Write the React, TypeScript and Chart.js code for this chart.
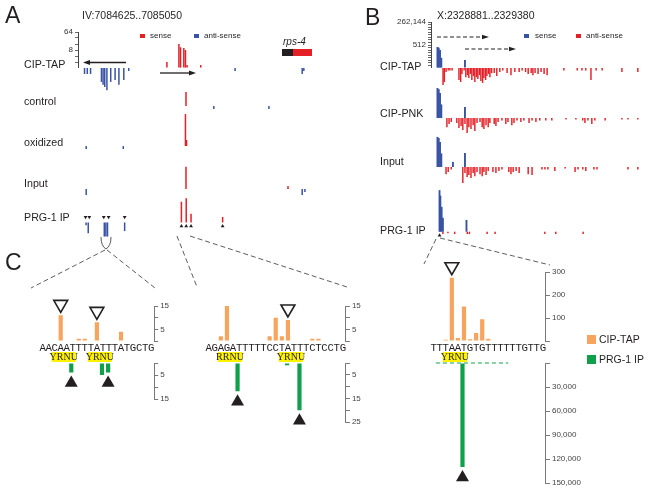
import React, { useEffect, useRef } from 'react';
import { Chart, registerables } from 'chart.js';

Chart.register(...registerables);

const RED = '#e41f26';
const BLUE = '#3953a4';
const ORANGE = '#f7a55e';
const GREEN = '#10a04b';
const YELLOW = '#fff200';
const INK = '#231f20';
const AXIS = '#555555';
const SANS = '"Liberation Sans", Arial, Helvetica, sans-serif';
const MONO = '"Liberation Mono", "Courier New", monospace';
const SERIF = '"Liberation Serif", "Times New Roman", serif';
Chart.defaults.font.family = SANS;

// ================= Panel A : IV:7084625..7085050 =================
// positions = bp offset from 7084625, values = reads (log2 scale)
const aRegion = 'IV:7084625..7085050';
const aTrackNames = ['CIP-TAP', 'control', 'oxidized', 'Input', 'PRG-1 IP'];
const aAxisTickReads = [1, 2, 4, 8, 16, 32, 64];
const aAxisLabelReads = [8, 64];

const aCipTapSensePos = [156, 178, 181, 187, 190, 193, 218];
const aCipTapSenseReads = [2, 16, 11, 10, 8, 1, 1];
const aCipTapAntiPos = [5, 10, 16, 36, 39, 42, 46, 53, 61, 68, 77, 86, 281, 404, 407];
const aCipTapAntiReads = [2, 2, 2, 5, 7, 9, 13, 5, 4, 7, 4, 1, 1, 2, 1];
const aControlSensePos = [191];
const aControlSenseReads = [5];
const aControlAntiPos = [242, 343];
const aControlAntiReads = [1, 1];
const aOxidizedSensePos = [190, 192];
const aOxidizedSenseReads = [40, 2];
const aOxidizedAntiPos = [8, 76];
const aOxidizedAntiReads = [1, 1];
const aInputSensePos = [191, 378];
const aInputSenseReads = [13, 1];
const aInputAntiPos = [8, 404, 409];
const aInputAntiReads = [2, 2, 1];
const aPrgSensePos = [182, 191, 200, 259];
const aPrgSenseReads = [14, 22, 3, 2];
const aPrgAntiPos = [4, 8, 38, 41, 44, 76];
const aPrgAntiReads = [1, 4, 6, 6, 6, 3];
const aPrgSenseMarks = [182, 191, 200, 259];
const aPrgAntiMarks = [3, 10, 37, 46, 76];

// ================= Panel B : X:2328881..2329380 =================
const bRegion = 'X:2328881..2329380';
const bTrackNames = ['CIP-TAP', 'CIP-PNK', 'Input', 'PRG-1 IP'];
const bAxisTickReads = Array.from({ length: 19 }, (_, i) => 2 ** i);
const bAxisLabelReads = [512, 262144];

const bCipTapSensePos = [15, 18, 21, 24, 79];
const bCipTapSenseReads = [300, 250, 130, 16, 9];
const bCipTapAntiPos = [28, 31, 35, 40, 44, 49, 65, 69, 72, 77, 81, 85, 88, 92, 95, 99, 102, 106, 109, 113, 116, 120, 123, 127, 130, 134, 137, 141, 147, 153, 160, 167, 177, 186, 195, 205, 212, 220, 226, 233, 237, 242, 249, 256, 263, 270, 309, 340, 351, 360, 372, 384, 398, 444, 481];
const bCipTapAntiReads = [100, 45, 3, 2, 2, 2, 26, 45, 5, 2, 12, 7, 15, 5, 26, 9, 45, 12, 20, 7, 34, 58, 15, 26, 9, 5, 12, 4, 4, 9, 3, 2, 4, 7, 3, 3, 2, 3, 5, 4, 7, 4, 5, 3, 5, 7, 2, 2, 2, 2, 26, 2, 2, 3, 3];
const bCipPnkSensePos = [15, 18, 21, 24, 79];
const bCipPnkSenseReads = [3400, 2500, 900, 40, 20];
const bCipPnkAntiPos = [37, 42, 47, 60, 65, 70, 74, 79, 84, 88, 93, 98, 102, 107, 114, 119, 123, 128, 133, 137, 147, 151, 156, 165, 174, 179, 188, 193, 200, 209, 216, 228, 235, 244, 253, 267, 281, 314, 337, 353, 358, 365, 374, 381, 405, 444, 458, 481];
const bCipPnkAntiReads = [12, 5, 3, 4, 15, 9, 26, 5, 58, 12, 20, 7, 34, 4, 3, 12, 20, 7, 12, 4, 5, 9, 3, 2, 5, 3, 7, 4, 2, 3, 2, 4, 2, 3, 2, 2, 2, 1, 1, 2, 4, 2, 5, 2, 2, 1, 1, 1];
const bInputSensePos = [15, 18, 21, 24, 51, 79];
const bInputSenseReads = [3500, 2600, 900, 40, 4, 45];
const bInputAntiPos = [35, 40, 47, 74, 79, 84, 88, 93, 98, 102, 107, 114, 119, 123, 128, 133, 144, 151, 158, 165, 181, 186, 191, 198, 205, 226, 235, 258, 265, 272, 288, 312, 335, 342, 353, 360, 379, 386, 458, 481];
const bInputAntiReads = [7, 4, 2, 77, 5, 15, 9, 20, 5, 12, 4, 7, 12, 4, 9, 3, 4, 5, 3, 2, 4, 7, 4, 3, 5, 7, 9, 2, 2, 2, 3, 1, 4, 2, 2, 3, 2, 2, 2, 2];
const bPrgSensePos = [15, 17, 20, 23, 79];
const bPrgSenseReads = [200000, 40000, 1500, 60, 32];
const bPrgAntiPos = [23, 35, 51, 81, 86, 128, 147, 265, 291, 356];
const bPrgAntiReads = [2, 1, 2, 2, 2, 2, 2, 2, 2, 2];
const bPrgSenseMarks = [15];

// ================= Panel C : nucleotide-resolution views =================
const cLeftSeq = 'AACAATTTTATTTATGCTG';
const cLeftCipTapIdx = [3, 6, 7, 9, 13];
const cLeftCipTapVal = [11, 1, 1, 8, 4];
const cLeftPrgIdx = [5, 10, 11];
const cLeftPrgVal = [4, 5, 4];
const cLeftOpenMarks = [3, 9];
const cLeftFilledMarks = [5, 11];
const cLeftMotifStart = [2, 8];
const cLeftMotifText = ['YRNU', 'YRNU'];
const cLeftTopTicks = [0, 5, 10, 15];
const cLeftTopLabels = [5, 15];
const cLeftBottomTicks = [0, 5, 10, 15];
const cLeftBottomLabels = [5, 15];

const cMidSeq = 'AGAGATTTTTCCTATTTCTCCTG';
const cMidCipTapIdx = [2, 3, 10, 11, 12, 13, 17, 18];
const cMidCipTapVal = [2, 15, 2, 10, 2, 9, 1, 1];
const cMidPrgIdx = [5, 13, 15];
const cMidPrgVal = [12, 1, 20];
const cMidOpenMarks = [3, 13];
const cMidFilledMarks = [5, 15];
const cMidMotifStart = [2, 12];
const cMidMotifText = ['RRNU', 'YRNU'];
const cMidTopTicks = [0, 5, 10, 15];
const cMidTopLabels = [5, 15];
const cMidBottomTicks = [0, 5, 10, 15, 20, 25];
const cMidBottomLabels = [5, 15, 25];

const cRightSeq = 'TTTAATGTGTTTTTTGTTG';
const cRightCipTapIdx = [2, 3, 4, 5, 6, 7, 8, 9];
const cRightCipTapVal = [5, 275, 13, 150, 8, 35, 95, 10];
const cRightPrgIdx = [5];
const cRightPrgVal = [130000];
const cRightOpenMarks = [3];
const cRightFilledMarks = [5];
const cRightMotifStart = [2];
const cRightMotifText = ['YRNU'];
const cRightPrgGuide = [0.7, 12.4];
const cRightTopTicks = [0, 100, 200, 300];
const cRightTopLabels = [100, 200, 300];
const cRightBottomTicks = [0, 30000, 60000, 90000, 120000, 150000];
const cRightBottomLabels = [30000, 60000, 90000, 120000, 150000];
const cLegend = ['CIP-TAP', 'PRG-1 IP'];

// ================= helpers =================
type Area = { L: number; T: number; R: number; B: number };
type Pad = { l: number; t: number; r: number; b: number };
type Spec = { left: number; top: number; width: number; height: number; make: () => any };

function frame(area: Area, pad: Pad, ax: { left?: number; right?: number; bottom?: number } = {}) {
  const left = Math.floor(area.L - pad.l);
  const top = Math.floor(area.T - pad.t);
  const right = Math.ceil(area.R + pad.r);
  const bottom = Math.ceil(area.B + pad.b);
  return {
    left,
    top,
    width: right - left,
    height: bottom - top,
    padding: {
      left: area.L - left - (ax.left || 0),
      top: area.T - top,
      right: right - area.R - (ax.right || 0),
      bottom: bottom - area.B - (ax.bottom || 0),
    },
  };
}

const fix = (w?: number, h?: number) => (s: any) => {
  if (w !== undefined) s.width = w;
  if (h !== undefined) s.height = h;
  s.paddingLeft = 0;
  s.paddingRight = 0;
  s.paddingTop = 0;
  s.paddingBottom = 0;
};

function baseOptions(padding: any) {
  return {
    responsive: false,
    maintainAspectRatio: false,
    animation: false,
    events: [],
    layout: { padding },
    plugins: { legend: { display: false }, tooltip: { enabled: false }, title: { display: false } },
  };
}

function markDs(data: any[], rotation: number, r: number, fill: string, stroke: string, bw = 0) {
  return {
    type: 'scatter',
    data,
    showLine: false,
    clip: false,
    pointStyle: 'triangle',
    pointRotation: rotation,
    rotation,
    pointRadius: r,
    radius: r,
    pointHoverRadius: r,
    pointBackgroundColor: fill,
    backgroundColor: fill,
    pointBorderColor: stroke,
    borderColor: stroke,
    pointBorderWidth: bw,
    borderWidth: bw,
  };
}

interface Series { pos: number[]; reads: number[]; color: string; w: number }
interface TrackDef {
  area: Area;
  x: [number, number];
  y: [number, number];
  up?: Series;
  down?: Series;
  minH: number;
  upMarks?: number[];
  downMarks?: number[];
  axis?: { width: number; tickReads: number[]; labelReads: number[] };
}

function trackSpec(d: TrackDef): Spec {
  const axW = d.axis ? d.axis.width : 0;
  const f = frame(d.area, { l: axW, t: d.axis ? 8 : 0, r: 0, b: 0 }, { left: axW });
  const ppu = (d.area.B - d.area.T) / (d.y[1] - d.y[0]);
  const h = (r: number) => Math.max(Math.log2(r), d.minH);
  return {
    left: f.left,
    top: f.top,
    width: f.width,
    height: f.height,
    make: () => {
      const datasets: any[] = [];
      if (d.up) {
        datasets.push({
          type: 'bar', stack: 's', data: d.up.pos.map((p, i) => ({ x: p, y: h(d.up!.reads[i]) })),
          backgroundColor: d.up.color, borderWidth: 0, barThickness: d.up.w, inflateAmount: 0, clip: false,
        });
      }
      if (d.down) {
        datasets.push({
          type: 'bar', stack: 's', data: d.down.pos.map((p, i) => ({ x: p, y: -h(d.down!.reads[i]) })),
          backgroundColor: d.down.color, borderWidth: 0, barThickness: d.down.w, inflateAmount: 0, clip: false,
        });
      }
      if (d.upMarks) datasets.push(markDs(d.upMarks.map((p) => ({ x: p, y: -4 / ppu })), 0, 2.2, INK, INK));
      if (d.downMarks) datasets.push(markDs(d.downMarks.map((p) => ({ x: p, y: 6 / ppu })), 180, 2.2, INK, INK));
      const yAxis: any = d.axis
        ? {
            type: 'linear',
            position: 'left',
            stacked: false,
            min: d.y[0],
            max: d.y[1],
            afterBuildTicks: (s: any) => { s.ticks = d.axis!.tickReads.map((r) => ({ value: Math.log2(r) })); },
            afterFit: fix(d.axis.width),
            grid: { drawOnChartArea: false, drawTicks: true, tickLength: 3, color: '#444', lineWidth: 0.8 },
            border: { display: true, color: '#444', width: 1 },
            ticks: {
              autoSkip: false,
              padding: 2,
              color: '#333',
              font: { family: SANS, size: 8 },
              callback: (v: number) => {
                const r = Math.round(2 ** v);
                return d.axis!.labelReads.includes(r) ? r.toLocaleString('en-US') : '';
              },
            },
          }
        : { type: 'linear', display: false, stacked: false, min: d.y[0], max: d.y[1] };
      return {
        type: 'bar',
        data: { datasets },
        options: {
          ...baseOptions(f.padding),
          scales: {
            x: { type: 'linear', display: false, min: d.x[0], max: d.x[1], offset: false, grid: { offset: false } },
            y: yAxis,
          },
        },
      };
    },
  };
}

interface SeqDef {
  area: Area;
  pad: Pad;
  seq: string;
  idx: number[];
  val: number[];
  color: string;
  yMax: number;
  ticks: number[];
  labels: number[];
  top: boolean;
  marks: number[];
  motifStart?: number[];
  motifText?: string[];
  guide?: number[];
}

function seqSpec(d: SeqDef): Spec {
  const AXW = 50;
  const XH = 13;
  const f = frame(d.area, d.pad, { right: AXW, bottom: d.top ? XH : 0 });
  const ppu = (d.area.B - d.area.T) / d.yMax;
  return {
    left: f.left,
    top: f.top,
    width: f.width,
    height: f.height,
    make: () => {
      const valAt = (i: number) => {
        const k = d.idx.indexOf(i);
        return k >= 0 ? d.val[k] : 0;
      };
      const datasets: any[] = [
        { type: 'bar', data: d.idx.map((x, i) => ({ x, y: d.val[i] })), backgroundColor: d.color, borderWidth: 0, barThickness: 4.2, inflateAmount: 0 },
        d.top
          ? markDs(d.marks.map((i) => ({ x: i, y: valAt(i) + 11 / ppu })), 180, 8, '#ffffff', INK, 1.6)
          : markDs(d.marks.map((i) => ({ x: i, y: valAt(i) + 10.5 / ppu })), 0, 7.5, INK, INK, 0),
      ];
      if (d.guide) {
        datasets.push({
          type: 'line',
          data: [{ x: d.guide[0], y: 0 }, { x: d.guide[1], y: 0 }],
          borderColor: GREEN,
          borderWidth: 1,
          borderDash: [4, 3],
          pointRadius: 0,
          fill: false,
          clip: false,
        });
      }
      const plugins: any[] = [];
      if (d.motifStart && d.motifText) {
        const starts = d.motifStart;
        const texts = d.motifText;
        plugins.push({
          id: 'motifs',
          afterDraw(chart: any) {
            const ctx = chart.ctx;
            const xs = chart.scales.x;
            const y0 = chart.chartArea.bottom + 11;
            ctx.save();
            starts.forEach((s, i) => {
              const x0 = xs.getPixelForValue(s - 0.5);
              const x1 = xs.getPixelForValue(s + 3.5);
              ctx.fillStyle = YELLOW;
              ctx.fillRect(x0, y0, x1 - x0, 10);
              ctx.fillStyle = INK;
              ctx.font = `10px ${SERIF}`;
              ctx.textAlign = 'center';
              ctx.textBaseline = 'middle';
              ctx.fillText(texts[i], (x0 + x1) / 2, y0 + 5.5);
            });
            ctx.restore();
          },
        });
      }
      const xAxis: any = {
        type: 'linear',
        display: d.top,
        position: 'bottom',
        min: -0.5,
        max: d.seq.length - 0.5,
        offset: false,
        afterBuildTicks: (s: any) => { s.ticks = [...d.seq].map((_, i) => ({ value: i })); },
        grid: { display: false, drawTicks: false, offset: false },
        border: { display: false },
        ticks: {
          autoSkip: false,
          maxRotation: 0,
          minRotation: 0,
          padding: 1,
          color: INK,
          font: { family: MONO, size: 10.7 },
          callback: (v: number) => d.seq[Math.round(v)] ?? '',
        },
      };
      if (d.top) xAxis.afterFit = fix(undefined, XH);
      return {
        type: 'bar',
        data: { datasets },
        plugins,
        options: {
          ...baseOptions(f.padding),
          scales: {
            x: xAxis,
            y: {
              type: 'linear',
              position: 'right',
              min: 0,
              max: d.yMax,
              reverse: !d.top,
              afterBuildTicks: (s: any) => { s.ticks = d.ticks.map((v) => ({ value: v })); },
              afterFit: fix(AXW),
              grid: { drawOnChartArea: false, drawTicks: true, tickLength: 4, color: AXIS, lineWidth: 0.8 },
              border: { display: true, color: AXIS, width: 0.8 },
              ticks: {
                autoSkip: false,
                padding: 2,
                color: '#444',
                font: { family: SANS, size: 8 },
                callback: (v: number) => (d.labels.includes(v) ? v.toLocaleString('en-US') : ''),
              },
            },
          },
        },
      };
    },
  };
}

// ================= layout =================
const AX: [number, number] = [-7, 433];
const AL = 78;
const AR = 318;
const APX = 6; // px per log2 unit
const BX: [number, number] = [0, 500];
const BL = 431;
const BR = 646;
const BPX = 23 / 9;
const AW = 1.5;
const BW = 1.45;
const BWP = 1.9;

function aTrack(base: number, up: number, dn: number) {
  return { L: AL, R: AR, T: base - up * APX, B: base + dn * APX };
}
function bTrack(base: number, up: number, dn: number) {
  return { L: BL, R: BR, T: base - up * BPX, B: base + dn * BPX };
}

const SPECS: Spec[] = [
  // Panel A
  trackSpec({
    area: aTrack(68, 6, 0), x: AX, y: [0, 6], minH: 0.5,
    up: { pos: aCipTapSensePos, reads: aCipTapSenseReads, color: RED, w: AW },
    axis: { width: 30, tickReads: aAxisTickReads, labelReads: aAxisLabelReads },
  }),
  trackSpec({
    area: aTrack(68, 0, 4), x: AX, y: [-4, 0], minH: 0.5,
    down: { pos: aCipTapAntiPos, reads: aCipTapAntiReads, color: BLUE, w: AW },
  }),
  trackSpec({
    area: aTrack(106, 3, 1), x: AX, y: [-1, 3], minH: 0.5,
    up: { pos: aControlSensePos, reads: aControlSenseReads, color: RED, w: AW },
    down: { pos: aControlAntiPos, reads: aControlAntiReads, color: BLUE, w: AW },
  }),
  trackSpec({
    area: aTrack(146, 6, 1), x: AX, y: [-1, 6], minH: 0.5,
    up: { pos: aOxidizedSensePos, reads: aOxidizedSenseReads, color: RED, w: AW },
    down: { pos: aOxidizedAntiPos, reads: aOxidizedAntiReads, color: BLUE, w: AW },
  }),
  trackSpec({
    area: aTrack(189, 5, 1.5), x: AX, y: [-1.5, 5], minH: 0.5,
    up: { pos: aInputSensePos, reads: aInputSenseReads, color: RED, w: AW },
    down: { pos: aInputAntiPos, reads: aInputAntiReads, color: BLUE, w: AW },
  }),
  trackSpec({
    area: aTrack(223, 5, 3), x: AX, y: [-3, 5], minH: 0.5,
    up: { pos: aPrgSensePos, reads: aPrgSenseReads, color: RED, w: AW },
    down: { pos: aPrgAntiPos, reads: aPrgAntiReads, color: BLUE, w: AW },
    upMarks: aPrgSenseMarks, downMarks: aPrgAntiMarks,
  }),
  // Panel B
  trackSpec({
    area: bTrack(68, 18, 0), x: BX, y: [0, 18], minH: 0.6,
    up: { pos: bCipTapSensePos, reads: bCipTapSenseReads, color: BLUE, w: BWP },
    axis: { width: 40, tickReads: bAxisTickReads, labelReads: bAxisLabelReads },
  }),
  trackSpec({
    area: bTrack(68, 0, 8), x: BX, y: [-8, 0], minH: 0.6,
    down: { pos: bCipTapAntiPos, reads: bCipTapAntiReads, color: RED, w: BW },
  }),
  trackSpec({
    area: bTrack(118, 12, 7), x: BX, y: [-7, 12], minH: 0.6,
    up: { pos: bCipPnkSensePos, reads: bCipPnkSenseReads, color: BLUE, w: BWP },
    down: { pos: bCipPnkAntiPos, reads: bCipPnkAntiReads, color: RED, w: BW },
  }),
  trackSpec({
    area: bTrack(167, 12, 7), x: BX, y: [-7, 12], minH: 0.6,
    up: { pos: bInputSensePos, reads: bInputSenseReads, color: BLUE, w: BWP },
    down: { pos: bInputAntiPos, reads: bInputAntiReads, color: RED, w: BW },
  }),
  trackSpec({
    area: bTrack(233, 18, 3), x: BX, y: [-3, 18], minH: 0.6,
    up: { pos: bPrgSensePos, reads: bPrgSenseReads, color: BLUE, w: BWP },
    down: { pos: bPrgAntiPos, reads: bPrgAntiReads, color: RED, w: BW },
    upMarks: bPrgSenseMarks,
  }),
  // Panel C
  seqSpec({
    area: { L: 32, T: 306, R: 32 + 19 * 6.43, B: 341 }, pad: { l: 2, t: 16, r: 50, b: 22 },
    seq: cLeftSeq, idx: cLeftCipTapIdx, val: cLeftCipTapVal, color: ORANGE, yMax: 15,
    ticks: cLeftTopTicks, labels: cLeftTopLabels, top: true, marks: cLeftOpenMarks,
    motifStart: cLeftMotifStart, motifText: cLeftMotifText,
  }),
  seqSpec({
    area: { L: 32, T: 363, R: 32 + 19 * 6.43, B: 399 }, pad: { l: 2, t: 10, r: 50, b: 20 },
    seq: cLeftSeq, idx: cLeftPrgIdx, val: cLeftPrgVal, color: GREEN, yMax: 15,
    ticks: cLeftBottomTicks, labels: cLeftBottomLabels, top: false, marks: cLeftFilledMarks,
  }),
  seqSpec({
    area: { L: 198, T: 306, R: 198 + 23 * 6.43, B: 341 }, pad: { l: 2, t: 20, r: 50, b: 22 },
    seq: cMidSeq, idx: cMidCipTapIdx, val: cMidCipTapVal, color: ORANGE, yMax: 15,
    ticks: cMidTopTicks, labels: cMidTopLabels, top: true, marks: cMidOpenMarks,
    motifStart: cMidMotifStart, motifText: cMidMotifText,
  }),
  seqSpec({
    area: { L: 198, T: 363, R: 198 + 23 * 6.43, B: 422 }, pad: { l: 2, t: 10, r: 50, b: 20 },
    seq: cMidSeq, idx: cMidPrgIdx, val: cMidPrgVal, color: GREEN, yMax: 25,
    ticks: cMidBottomTicks, labels: cMidBottomLabels, top: false, marks: cMidFilledMarks,
  }),
  seqSpec({
    area: { L: 423, T: 272, R: 423 + 19 * 6.47, B: 341 }, pad: { l: 2, t: 14, r: 50, b: 22 },
    seq: cRightSeq, idx: cRightCipTapIdx, val: cRightCipTapVal, color: ORANGE, yMax: 300,
    ticks: cRightTopTicks, labels: cRightTopLabels, top: true, marks: cRightOpenMarks,
    motifStart: cRightMotifStart, motifText: cRightMotifText,
  }),
  seqSpec({
    area: { L: 423, T: 363, R: 423 + 19 * 6.47, B: 483 }, pad: { l: 2, t: 10, r: 50, b: 10 },
    seq: cRightSeq, idx: cRightPrgIdx, val: cRightPrgVal, color: GREEN, yMax: 150000,
    ticks: cRightBottomTicks, labels: cRightBottomLabels, top: false, marks: cRightFilledMarks,
    guide: cRightPrgGuide,
  }),
];

function ChartCanvas({ spec }: { spec: Spec }) {
  const ref = useRef<HTMLCanvasElement>(null);
  useEffect(() => {
    const chart = new Chart(ref.current as HTMLCanvasElement, spec.make());
    return () => chart.destroy();
  }, [spec]);
  return (
    <canvas
      ref={ref}
      width={spec.width}
      height={spec.height}
      style={{ position: 'absolute', left: spec.left, top: spec.top, width: spec.width, height: spec.height }}
    />
  );
}

function Label({ x, y, size, text, italic }: { x: number; y: number; size: number; text: string; italic?: boolean }) {
  return (
    <div
      style={{
        position: 'absolute',
        left: x,
        top: y - size * 0.5,
        fontSize: size,
        lineHeight: `${size}px`,
        fontFamily: SANS,
        fontStyle: italic ? 'italic' : 'normal',
        color: INK,
        whiteSpace: 'nowrap',
      }}
    >
      {text}
    </div>
  );
}

function Swatch({ x, y, w, h, color }: { x: number; y: number; w: number; h: number; color: string }) {
  return <div style={{ position: 'absolute', left: x, top: y, width: w, height: h, background: color }} />;
}

const aLabelY = [64, 101.5, 142, 183, 217.5];
const bLabelY = [66, 113, 161.5, 230];

export default function App() {
  const dash = { stroke: '#333', strokeWidth: 0.8, strokeDasharray: '5 3', fill: 'none' };
  return (
    <div style={{ position: 'fixed', left: 0, top: 0, width: 651, height: 493, background: '#fff', overflow: 'hidden' }}>
      {SPECS.map((s, i) => (
        <ChartCanvas key={i} spec={s} />
      ))}
      <svg width={651} height={493} style={{ position: 'absolute', left: 0, top: 0, pointerEvents: 'none' }}>
        <line x1={126} y1={62.5} x2={89} y2={62.5} stroke={INK} strokeWidth={1.3} />
        <polygon points="83,62.5 90,60 90,65" fill={INK} />
        <line x1={160} y1={73} x2={190} y2={73} stroke={INK} strokeWidth={1.3} />
        <polygon points="196,73 189,70.5 189,75.5" fill={INK} />
        <rect x={282} y={49} width={11} height={7} fill={INK} />
        <rect x={293} y={49} width={19} height={7} fill={RED} />
        <line x1={437} y1={37} x2={483} y2={37} stroke={INK} strokeWidth={1.2} strokeDasharray="4 2.5" />
        <polygon points="489,37 482,34.8 482,39.2" fill={INK} />
        <line x1={465} y1={49} x2={510} y2={49} stroke={INK} strokeWidth={1.2} strokeDasharray="4 2.5" />
        <polygon points="516,49 509,46.8 509,51.2" fill={INK} />
        <path d="M101,237 Q101,246 106,249 Q111,246 111,237" stroke="#333" strokeWidth={0.8} fill="none" />
        <line x1={105} y1={250} x2={31} y2={288} {...dash} />
        <line x1={107} y1={250} x2={155} y2={288} {...dash} />
        <line x1={177} y1={236} x2={197} y2={287} {...dash} />
        <line x1={190} y1={236} x2={347} y2={287} {...dash} />
        <line x1={436} y1={239} x2={424} y2={264} {...dash} />
        <line x1={440} y1={238} x2={550} y2={265} {...dash} />
      </svg>
      <Label x={5} y={15.5} size={23} text="A" />
      <Label x={82} y={15} size={10.5} text={aRegion} />
      <Swatch x={140} y={33.5} w={4.5} h={4} color={RED} />
      <Label x={150} y={35.5} size={8} text="sense" />
      <Swatch x={194} y={33.5} w={4.5} h={4} color={BLUE} />
      <Label x={204} y={35.5} size={8} text="anti-sense" />
      <Label x={283} y={41.5} size={10} text="rps-4" italic />
      {aTrackNames.map((n, i) => (
        <Label key={n} x={24} y={aLabelY[i]} size={10.7} text={n} />
      ))}
      <Label x={365} y={17.5} size={23} text="B" />
      <Label x={437} y={15} size={10.5} text={bRegion} />
      <Swatch x={524} y={34} w={4.5} h={4} color={BLUE} />
      <Label x={535} y={36} size={8} text="sense" />
      <Swatch x={576} y={34} w={4.5} h={4} color={RED} />
      <Label x={586} y={36} size={8} text="anti-sense" />
      {bTrackNames.map((n, i) => (
        <Label key={n} x={380} y={bLabelY[i]} size={10.7} text={n} />
      ))}
      <Label x={5} y={262} size={23} text="C" />
      <Swatch x={587} y={335} w={8.5} h={8.5} color={ORANGE} />
      <Label x={599} y={339} size={10.5} text={cLegend[0]} />
      <Swatch x={587} y={355} w={8.5} h={8.5} color={GREEN} />
      <Label x={599} y={359} size={10.5} text={cLegend[1]} />
    </div>
  );
}
